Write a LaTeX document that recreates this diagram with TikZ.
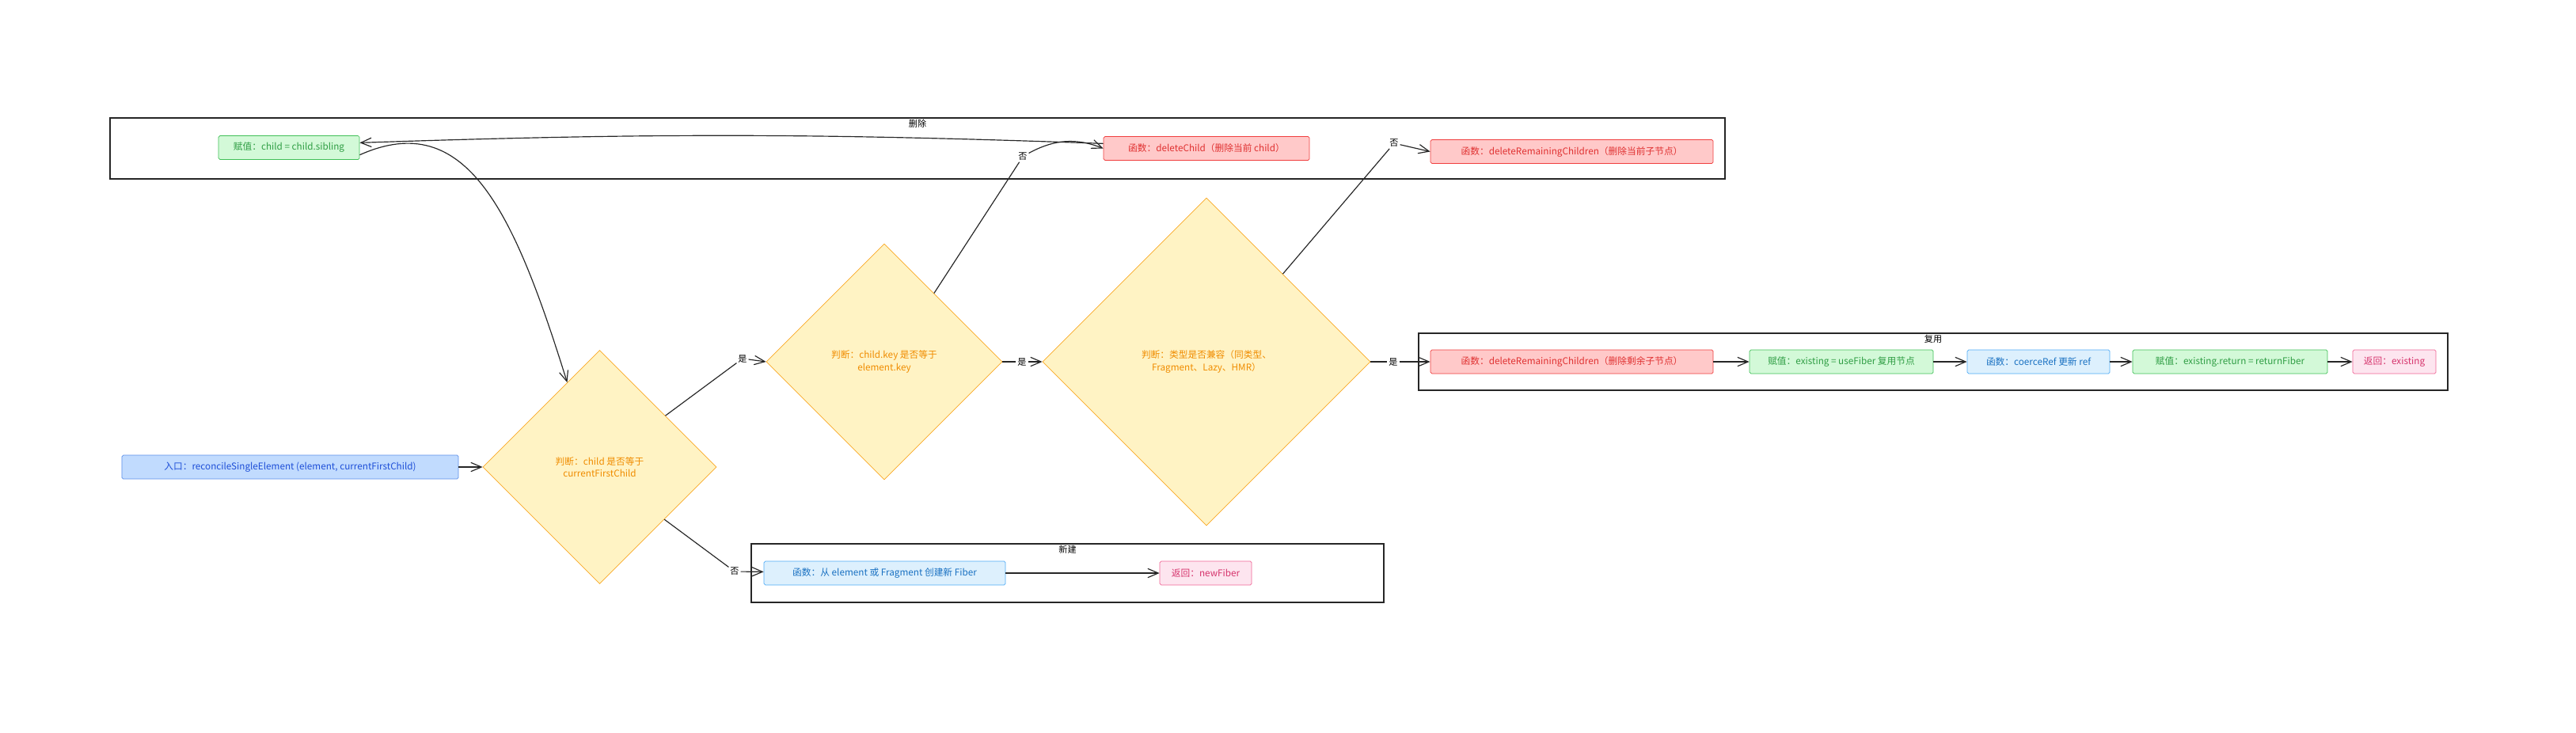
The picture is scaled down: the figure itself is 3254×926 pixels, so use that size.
\documentclass[tikz,border=0pt]{standalone}
\usepackage{fontspec}
\setmainfont{Noto Sans CJK SC}
\usepackage{tikz}
\usetikzlibrary{arrows.meta,positioning,calc,shapes.geometric}
\definecolor{GreenFill}{HTML}{D3F9D8}
\definecolor{GreenLine}{HTML}{40C057}
\definecolor{GreenText}{HTML}{2F9E44}
\definecolor{RedFill}{HTML}{FFC9C9}
\definecolor{RedLine}{HTML}{F03E3E}
\definecolor{RedText}{HTML}{E03131}
\definecolor{BlueFill}{HTML}{C1DBFE}
\definecolor{BlueLine}{HTML}{5C8FE8}
\definecolor{BlueText}{HTML}{1E4FD8}
\definecolor{SkyFill}{HTML}{DDF0FD}
\definecolor{SkyLine}{HTML}{4DABF7}
\definecolor{SkyText}{HTML}{1971C2}
\definecolor{PinkFill}{HTML}{FDE5EF}
\definecolor{PinkLine}{HTML}{F06595}
\definecolor{PinkText}{HTML}{D6336C}
\definecolor{DecFill}{HTML}{FFF3C4}
\definecolor{DecLine}{HTML}{F9A825}
\definecolor{DecText}{HTML}{F08C00}
\begin{document}
\begin{tikzpicture}[>={Straight Barb[length=4mm,width=3.4mm]},x=0.03cm,y=-0.03cm,
    font=\fontsize{10}{13}\selectfont,
    groupbox/.style={draw=black!85,line width=1pt,fill=white,inner sep=0pt},
    grouplabel/.style={font=\fontsize{9.5}{11}\selectfont,inner sep=1pt},
    sketchbox/.style={draw,rounded corners=1.5pt,line width=0.6pt,minimum height=0.9cm,inner sep=2pt},
    greenbox/.style={sketchbox,fill=GreenFill,draw=GreenLine,text=GreenText},
    redbox/.style={sketchbox,fill=RedFill,draw=RedLine,text=RedText},
    bluebox/.style={sketchbox,fill=BlueFill,draw=BlueLine,text=BlueText},
    skybox/.style={sketchbox,fill=SkyFill,draw=SkyLine,text=SkyText},
    pinkbox/.style={sketchbox,fill=PinkFill,draw=PinkLine,text=PinkText},
    decision/.style={diamond,draw=DecLine,fill=DecFill,text=DecText,line width=0.6pt,align=center,inner sep=0pt},
    lbl/.style={inner sep=1.5pt,font=\fontsize{9.5}{11}\selectfont},
    link/.style={line width=1pt,black!85},
    flow/.style={link,->}]
  \useasboundingbox (0,0) rectangle (3254,926);
  \node [groupbox,minimum width=61.2cm,minimum height=2.31cm] (gdel) at (1159,187.5) {};
  \node [grouplabel,below=1pt of gdel.north] {删除};
  \node [groupbox,minimum width=39cm,minimum height=2.16cm] (greuse) at (2442,457) {};
  \node [grouplabel,below=1pt of greuse.north] {复用};
  \node [groupbox,minimum width=23.97cm,minimum height=2.22cm] (gnew) at (1348.5,724) {};
  \node [grouplabel,below=1pt of gnew.north] {新建};

  \node [bluebox,minimum width=12.75cm] (entry) at (366.5,590) {入口：reconcileSingleElement (element, currentFirstChild)};
  \node [decision,minimum width=8.85cm,minimum height=8.85cm] (d1) at (757.5,590) {判断：child 是否等于\\currentFirstChild};
  \node [decision,minimum width=8.94cm,minimum height=8.94cm] (d2) at (1117,457) {判断：child.key 是否等于\\element.key};
  \node [decision,minimum width=12.42cm,minimum height=12.42cm] (d3) at (1524,457) {判断：类型是否兼容（同类型、\\Fragment、Lazy、HMR）};

  \node [greenbox,minimum width=5.34cm] (sibling) at (365,186.5) {赋值：child = child.sibling};
  \node [redbox,minimum width=7.8cm] (delchild) at (1524,187.5) {函数：deleteChild（删除当前 child）};
  \node [redbox,minimum width=10.71cm] (delrest) at (1985.5,191.5) {函数：deleteRemainingChildren（删除当前子节点）};

  \node [redbox,minimum width=10.71cm] (delrem) at (1985.5,457) {函数：deleteRemainingChildren（删除剩余子节点）};
  \node [greenbox,minimum width=6.96cm] (usefib) at (2326,457) {赋值：existing = useFiber 复用节点};
  \node [skybox,minimum width=5.4cm] (coerce) at (2575,457) {函数：coerceRef 更新 ref};
  \node [greenbox,minimum width=7.38cm] (exret) at (2817,457) {赋值：existing.return = returnFiber};
  \node [pinkbox,minimum width=3.15cm] (retex) at (3024.5,457) {返回：existing};

  \node [skybox,minimum width=9.15cm] (fromel) at (1117.5,724) {函数：从 element 或 Fragment 创建新 Fiber};
  \node [pinkbox,minimum width=3.48cm] (retnew) at (1523,724) {返回：newFiber};

  \node [lbl] (yes1) at (938,453) {是};
  \node [lbl] (yes2) at (1291,457) {是};
  \node [lbl] (yes3) at (1760,457) {是};
  \node [lbl] (no1) at (928,722) {否};
  \node [lbl] (no2) at (1292,198) {否};
  \node [lbl] (no3) at (1761,181) {否};

  \draw [flow] (entry) -- (d1);
  \draw [link] (d1.38) -- (yes1);
  \draw [flow] (yes1) -- (d2.west);
  \draw [link] (d1.-39) -- (no1);
  \draw [flow] (no1) -- (fromel);
  \draw [link] (d2) -- (yes2);
  \draw [flow] (yes2) -- (d3);
  \draw [link] (d3) -- (yes3);
  \draw [flow] (yes3) -- (delrem);
  \draw [link] (d2.54) -- (no2);
  \draw [flow] (no2) to[bend left=25] (delchild.west);
  \draw [link] (d3.49) -- (no3);
  \draw [flow] (no3) -- (delrest.west);
  \draw [flow] ($(delchild.north west)!0.3!(delchild.south west)$) to[bend right=2] ($(sibling.north east)!0.3!(sibling.south east)$);
  \draw [flow] ($(sibling.north east)!0.8!(sibling.south east)$) .. controls (590,135) and (650,270) .. (d1.111);
  \draw [flow] (delrem) -- (usefib);
  \draw [flow] (usefib) -- (coerce);
  \draw [flow] (coerce) -- (exret);
  \draw [flow] (exret) -- (retex);
  \draw [flow] (fromel) -- (retnew);
\end{tikzpicture}
\end{document}
